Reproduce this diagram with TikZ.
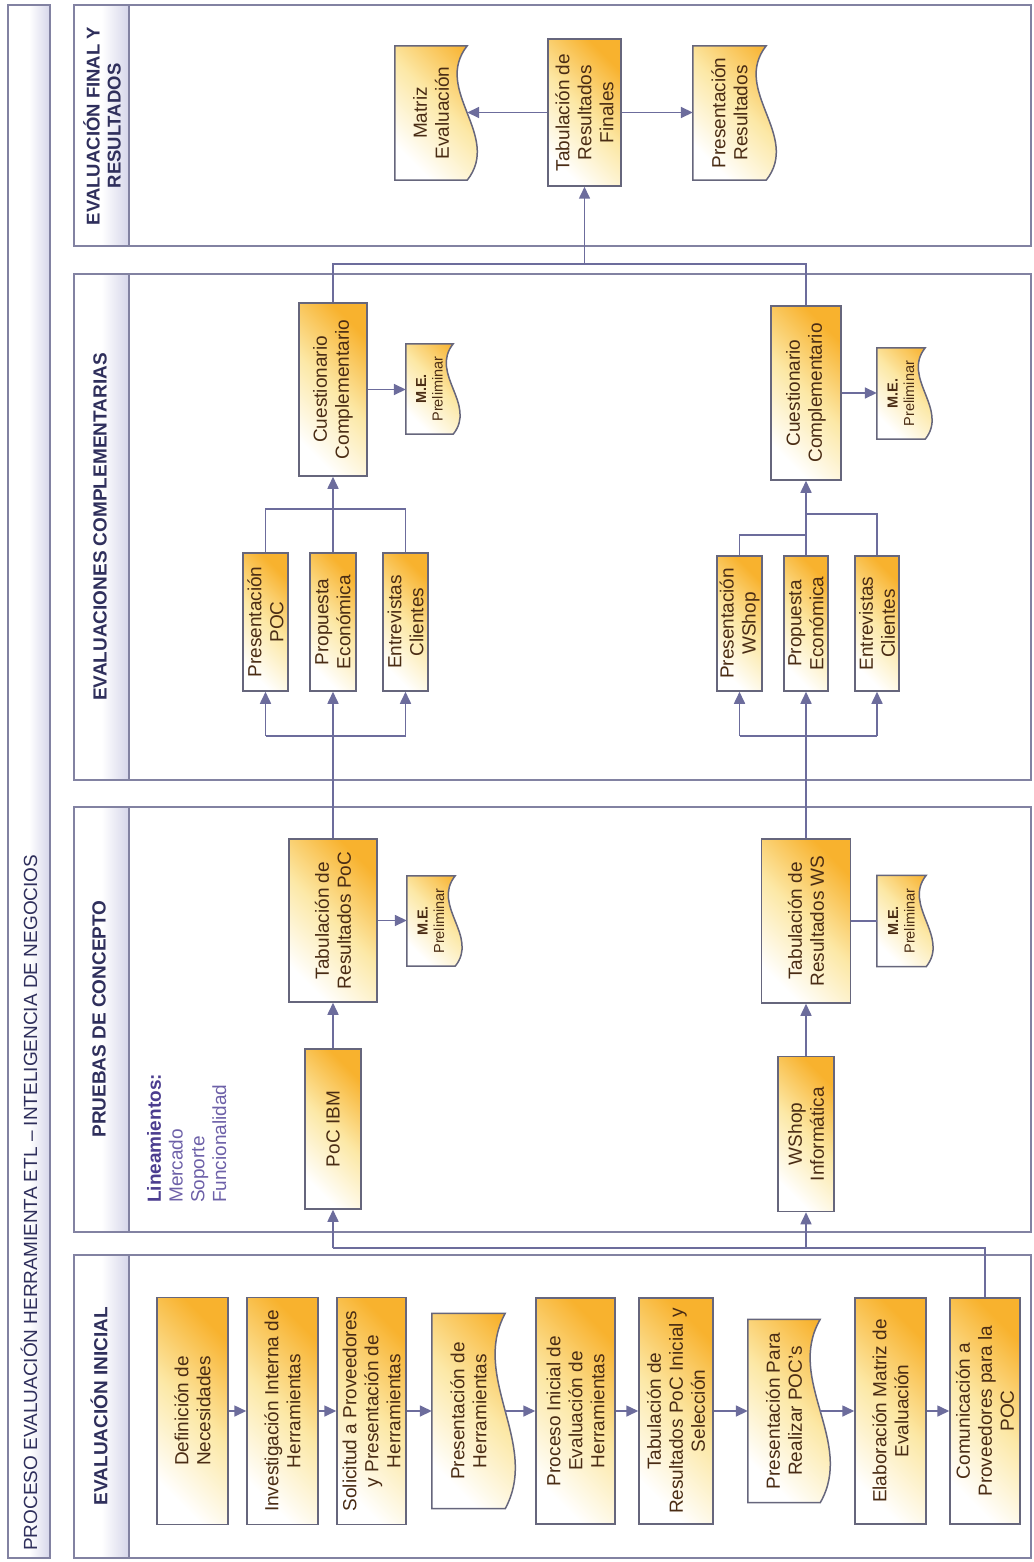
\documentclass[tikz,border=0pt]{standalone}
\usepackage{fontspec}
\setmainfont{Liberation Sans}
\usetikzlibrary{arrows.meta,calc,backgrounds}

\definecolor{laneline}{HTML}{8282A2}
\definecolor{boxline}{HTML}{66667C}
\definecolor{conn}{HTML}{6C6C9C}
\definecolor{boxtext}{HTML}{4A2C14}
\definecolor{headtext}{HTML}{2F2F5C}
\definecolor{orangefill}{HTML}{F8B22E}
\definecolor{yellowfill}{HTML}{FCE8A6}
\definecolor{lavender}{HTML}{D6D6EA}
\definecolor{guide}{HTML}{4B3D8F}
\definecolor{guideitem}{HTML}{6D60A8}

\tikzset{
  x=1pt, y=-1pt,
  lane/.style={draw=laneline, line width=1.4pt},
  headband/.style={left color=white, right color=lavender, middle color=white, draw=none},
  dims/.style 2 args={minimum width=#1pt, minimum height=#2pt},
  boxfill/.style={bottom color=white, top color=orangefill, middle color=yellowfill, shading angle=-45},
  procbox/.style={rotate=90, rectangle, draw=boxline, line width=1.5pt, inner sep=0pt,
    align=center, text=boxtext, font=\fontsize{19}{22}\selectfont, boxfill},
  docnode/.style={rotate=90, rectangle, inner sep=0pt, align=center, text=boxtext,
    font=\fontsize{19}{22}\selectfont},
  smalldoc/.style={docnode, font=\fontsize{14.5}{16.5}\selectfont},
  lanehead/.style={rotate=90, text=headtext, align=center, inner sep=0pt,
    font=\bfseries\fontsize{19}{21}\selectfont},
  arr/.style={draw=conn, line width=1.6pt, -{Triangle[length=12pt,width=11pt]}},
  link/.style={draw=conn, line width=1.6pt},
}

% outline of a document symbol around a rotated node: straight on three sides,
% wavy on the page-right side (bulging out low, dipping in high)
\newcommand\drawdoc[2]{%
  \shade[draw=boxline, line width=1.5pt, boxfill]
    (#1.north east) -- (#1.north west) -- (#1.south west)
    .. controls ($(#1.south west)!0.33!(#1.south east)+(#2,0)$)
            and ($(#1.south west)!0.67!(#1.south east)+(-#2,0)$) .. (#1.south east)
    -- cycle;
}

\begin{document}
\begin{tikzpicture}
\useasboundingbox (0,0) rectangle (1033,1562);
\begin{scope}[on background layer]
  \fill[white] (0,0) rectangle (1033,1562);
\end{scope}

% ---------- title strip ----------
\shade[headband] (8,5) rectangle (50,1558);
\draw[lane] (8,5) rectangle (50,1558);
\node[rotate=90, anchor=west, inner sep=0pt, text=headtext,
      font=\fontsize{19}{22}\selectfont] (title) at (29,1551)
  {PROCESO EVALUACIÓN HERRAMIENTA ETL – INTELIGENCIA DE NEGOCIOS};

% ---------- lanes ----------
\foreach \t/\b in {5/246, 274/780, 807/1232, 1255/1558} {
  \shade[headband] (74,\t) rectangle (129,\b);
  \draw[lane] (74,\t) rectangle (1031,\b);
  \draw[lane] (129,\t) -- (129,\b);
}
\node[lanehead] (h1) at (99,1406) {EVALUACIÓN INICIAL};
\node[lanehead] (h2) at (99,1019) {PRUEBAS DE CONCEPTO};
\node[lanehead] (h3) at (100,527) {EVALUACIONES COMPLEMENTARIAS};
\node[lanehead, font=\bfseries\fontsize{18.5}{21}\selectfont] (h4) at (102,126)
  {EVALUACIÓN FINAL Y\\RESULTADOS};

% ---------- lane 1: initial evaluation ----------
\node[procbox, dims={227}{71}] (def)  at (192.5,1411) {Definición de\\Necesidades};
\node[procbox, dims={227}{71}] (inv)  at (282.5,1411) {Investigación Interna de\\Herramientas};
\node[procbox, dims={227}{69}] (sol)  at (371.5,1411) {Solicitud a Proveedores\\y Presentación de\\Herramientas};
\node[docnode, dims={195}{73}] (presh) at (468.5,1411) {Presentación de\\Herramientas};
\node[procbox, dims={226}{79}] (proc) at (575.5,1411) {Proceso Inicial de\\Evaluación de\\Herramientas};
\node[procbox, dims={226}{74}] (tabi) at (676,1411) {Tabulación de\\Resultados PoC Inicial y\\Selección};
\node[docnode, dims={183}{72}] (presp) at (784,1411) {Presentación Para\\Realizar POC's};
\node[procbox, dims={226}{71}] (elab) at (890.5,1411) {Elaboración Matriz de\\Evaluación};
\node[procbox, dims={226}{70}] (com)  at (985,1411) {Comunicación a\\Proveedores para la\\POC};

% ---------- lane 2: proofs of concept ----------
\node[rotate=90, anchor=north west, inner sep=0pt, align=left,
      font=\fontsize{19}{21.7}\selectfont] (guia) at (147,1203)
  {\textcolor{guide}{\bfseries Lineamientos:}\\
   \textcolor{guideitem}{Mercado}\\
   \textcolor{guideitem}{Soporte}\\
   \textcolor{guideitem}{Funcionalidad}};
\node[procbox, dims={160}{56}] (poc)  at (333,1129) {PoC IBM};
\node[procbox, dims={163}{88}] (tabp) at (333,920.5) {Tabulación de\\Resultados PoC};
\node[smalldoc, dims={90}{48}] (me1)  at (431,921) {\textbf{M.E.}\\Preliminar};
\node[procbox, dims={155}{56}] (wsh)  at (806,1134) {WShop\\Informática};
\node[procbox, dims={164}{89}] (tabw) at (806,921) {Tabulación de\\Resultados WS};
\node[smalldoc, dims={91}{49}] (me2)  at (901.5,921) {\textbf{M.E.}\\Preliminar};

% ---------- lane 3: complementary evaluations ----------
\node[procbox, dims={138}{45}] (prpoc) at (265.5,622) {Presentación\\POC};
\node[procbox, dims={138}{46}] (prop1) at (333,622) {Propuesta\\Económica};
\node[procbox, dims={138}{45}] (ent1)  at (405.5,622) {Entrevistas\\Clientes};
\node[procbox, dims={173}{68}] (cue1)  at (333,389.5) {Cuestionario\\Complementario};
\node[smalldoc, dims={90}{47}] (me3)   at (429.5,389) {\textbf{M.E.}\\Preliminar};

\node[procbox, dims={135}{45}] (prws)  at (739.5,623.5) {Presentación\\WShop};
\node[procbox, dims={135}{44}] (prop2) at (806,623.5) {Propuesta\\Económica};
\node[procbox, dims={135}{44}] (ent2)  at (877,623.5) {Entrevistas\\Clientes};
\node[procbox, dims={174}{70}] (cue2)  at (806,393) {Cuestionario\\Complementario};
\node[smalldoc, dims={91}{48}] (me4)   at (901,393.5) {\textbf{M.E.}\\Preliminar};

% ---------- lane 4: final evaluation ----------
\node[docnode, dims={134}{72}] (mat)   at (431,113) {Matriz\\Evaluación};
\node[procbox, dims={147}{73}] (tabf)  at (584.5,112.5) {Tabulación de\\Resultados\\Finales};
\node[docnode, dims={134}{73}] (presr) at (729.5,113) {Presentación\\Resultados};

% document outlines, beneath their texts
\begin{scope}[on background layer]
  \drawdoc{presh}{35}
  \drawdoc{presp}{35}
  \drawdoc{me1}{24}
  \drawdoc{me2}{24}
  \drawdoc{me3}{24}
  \drawdoc{me4}{24}
  \drawdoc{mat}{35}
  \drawdoc{presr}{35}
\end{scope}

% ---------- connectors ----------
% lane 1 sequence
\draw[arr] (def.south) -- (inv.north);
\draw[arr] (inv.south) -- (sol.north);
\draw[arr] (sol.south) -- (presh.north);
\draw[arr] (presh.south) -- (proc.north);
\draw[arr] (proc.south) -- (tabi.north);
\draw[arr] (tabi.south) -- (presp.north);
\draw[arr] (presp.south) -- (elab.north);
\draw[arr] (elab.south) -- (com.north);

% from the supplier notice up to both proofs of concept
\coordinate (busA) at (333,1248);
\draw[link] (com.east) |- (busA);
\draw[arr] (busA) -- (poc.west);
\draw[arr] (wsh.west |- busA) -- (wsh.west);

% lane 2
\draw[arr] (poc.east) -- (tabp.west);
\draw[arr] (tabp.south) -- (tabp.south -| me1.north);
\draw[arr] (wsh.east) -- (tabw.west);
\draw[link] (tabw.south) -- (tabw.south -| me2.north);

% lane 3, first branch
\coordinate (lowA) at (333,736);
\coordinate (upA) at (333,509);
\draw[link] (tabp.east) -- (lowA);
\draw[link] (lowA -| prpoc.west) -- (lowA -| ent1.west);
\draw[arr] (lowA -| prpoc.west) -- (prpoc.west);
\draw[arr] (lowA) -- (prop1.west);
\draw[arr] (lowA -| ent1.west) -- (ent1.west);
\draw[link] (prpoc.east) |- (upA);
\draw[link] (ent1.east) |- (upA);
\draw[arr] (prop1.east) -- (cue1.west);
\draw[arr] (cue1.south) -- (cue1.south -| me3.north);

% lane 3, second branch
\coordinate (lowB) at (806,736);
\coordinate (upB1) at (806,535);
\coordinate (upB2) at (806,514);
\draw[link] (tabw.east) -- (lowB);
\draw[link] (lowB -| prws.west) -- (lowB -| ent2.west);
\draw[arr] (lowB -| prws.west) -- (prws.west);
\draw[arr] (lowB) -- (prop2.west);
\draw[arr] (lowB -| ent2.west) -- (ent2.west);
\draw[link] (prws.east) |- (upB1);
\draw[link] (ent2.east) |- (upB2);
\draw[arr] (prop2.east) -- (cue2.west);
\draw[arr] (cue2.south) -- (cue2.south -| me4.north);

% both questionnaires feed the final tabulation
\coordinate (busF) at (584.5,264);
\draw[link] (cue1.east) |- (busF) -| (cue2.east);
\draw[arr] (busF) -- (tabf.west);

% lane 4
\draw[arr] (tabf.north) -- (tabf.north -| mat.south);
\draw[arr] (tabf.south) -- (tabf.south -| presr.north);
\end{tikzpicture}
\end{document}
